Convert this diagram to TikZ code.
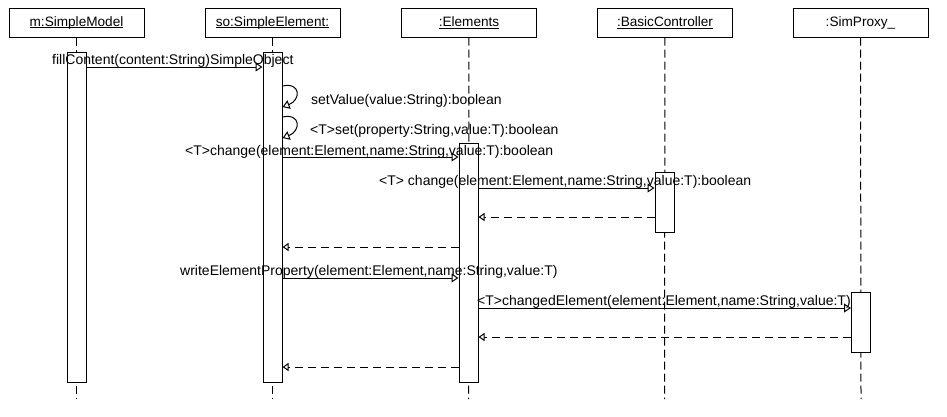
\documentclass[tikz,border=0pt]{standalone}
\usepackage{fontspec}
\setmainfont{Liberation Sans}
\usetikzlibrary{arrows.meta}
\newcommand{\myul}[1]{\setbox0\hbox{#1}\rlap{\rule[-1.6pt]{\wd0}{0.7pt}}\box0}
\begin{document}
\begin{tikzpicture}[x=1pt,y=-1pt,
  obj/.style={draw, line width=1pt, minimum width=135pt, minimum height=29pt, inner sep=0pt, font=\fontsize{13.6}{16}\selectfont, fill=white},
  bar/.style={draw, line width=1pt, fill=white, minimum width=19pt, inner sep=0pt, anchor=north},
  life/.style={line width=1pt, dash pattern=on 8pt off 4pt},
  msg/.style={line width=1pt, -{Triangle[open,length=7pt,width=9pt]}},
  ret/.style={line width=1pt, dash pattern=on 8pt off 5pt, -{Triangle[open,length=6pt,width=8pt]}},
  lbl/.style={anchor=base west, inner sep=0pt, font=\fontsize{14}{16}\selectfont},
]
\useasboundingbox[fill=white] (0,0) rectangle (947,416);

% object headers
\node[obj] (m)  at (76.5,22.5) {\myul{m:SimpleModel}};
\node[obj] (s)  at (272.5,22.5) {\myul{so:SimpleElement:}};
\node[obj] (e)  at (469,22.5) {\myul{:Elements}};
\node[obj] (bc) at (665,22.5) {\myul{:BasicController}};
\node[obj] (sp) at (860.5,22.5) {:SimProxy\_};

% lifelines
\coordinate (mEnd)  at (76.5,399);
\coordinate (sEnd)  at (272.5,399);
\coordinate (eEnd)  at (468.5,399);
\coordinate (bcEnd) at (664.5,399);
\coordinate (spEnd) at (861,399);
\draw[life] (m) -- (mEnd);
\draw[life] (s) -- (sEnd);
\draw[life] (e) -- (eEnd);
\draw[life] (bc) -- (bcEnd);
\draw[life] (sp) -- (spEnd);

% activation bars
\node[bar, minimum height=330pt] (bm)  at (76.5,52) {};
\node[bar, minimum height=330pt] (bs)  at (272.5,52) {};
\node[bar, minimum height=239pt] (be)  at (468.5,143) {};
\node[bar, minimum height=60pt]  (bbc) at (664.5,172) {};
\node[bar, minimum height=60pt]  (bsp) at (861,292) {};

% messages
\draw[msg] (bm.east |- 0,67) -- (bs.west |- 0,67);
\draw[msg] (bs.east |- 0,86) .. controls (301,82) and (301,100) .. (bs.east |- 0,107);
\draw[msg] (bs.east |- 0,117) .. controls (301,113) and (301,131) .. (bs.east |- 0,138);
\draw[msg] (bs.east |- 0,157) -- (be.west |- 0,157);
\draw[msg] (be.east |- 0,188) -- (bbc.west |- 0,188);
\draw[ret] (bbc.west |- 0,217) -- (be.east |- 0,217);
\draw[ret] (be.west |- 0,247) -- (bs.east |- 0,247);
\draw[msg] (bs.east |- 0,278) -- (be.west |- 0,278);
\draw[msg] (be.east |- 0,308) -- (bsp.west |- 0,308);
\draw[ret] (bsp.west |- 0,337) -- (be.east |- 0,337);
\draw[ret] (be.west |- 0,367) -- (bs.east |- 0,367);

% labels
\node[lbl] (l1) at (52,64)  {fillContent(content:String)SimpleObject};
\node[lbl] (l2) at (311,104) {setValue(value:String):boolean};
\node[lbl] (l3) at (310,134) {<T>set(property:String,value:T):boolean};
\node[lbl] (l4) at (185,155) {<T>change(element:Element,name:String,value:T):boolean};
\node[lbl] (l5) at (379,185) {<T> change(element:Element,name:String,value:T):boolean};
\node[lbl] (l6) at (180,275) {writeElementProperty(element:Element,name:String,value:T)};
\node[lbl] (l7) at (477,305) {<T>changedElement(element:Element,name:String,value:T)};
\end{tikzpicture}
\end{document}
